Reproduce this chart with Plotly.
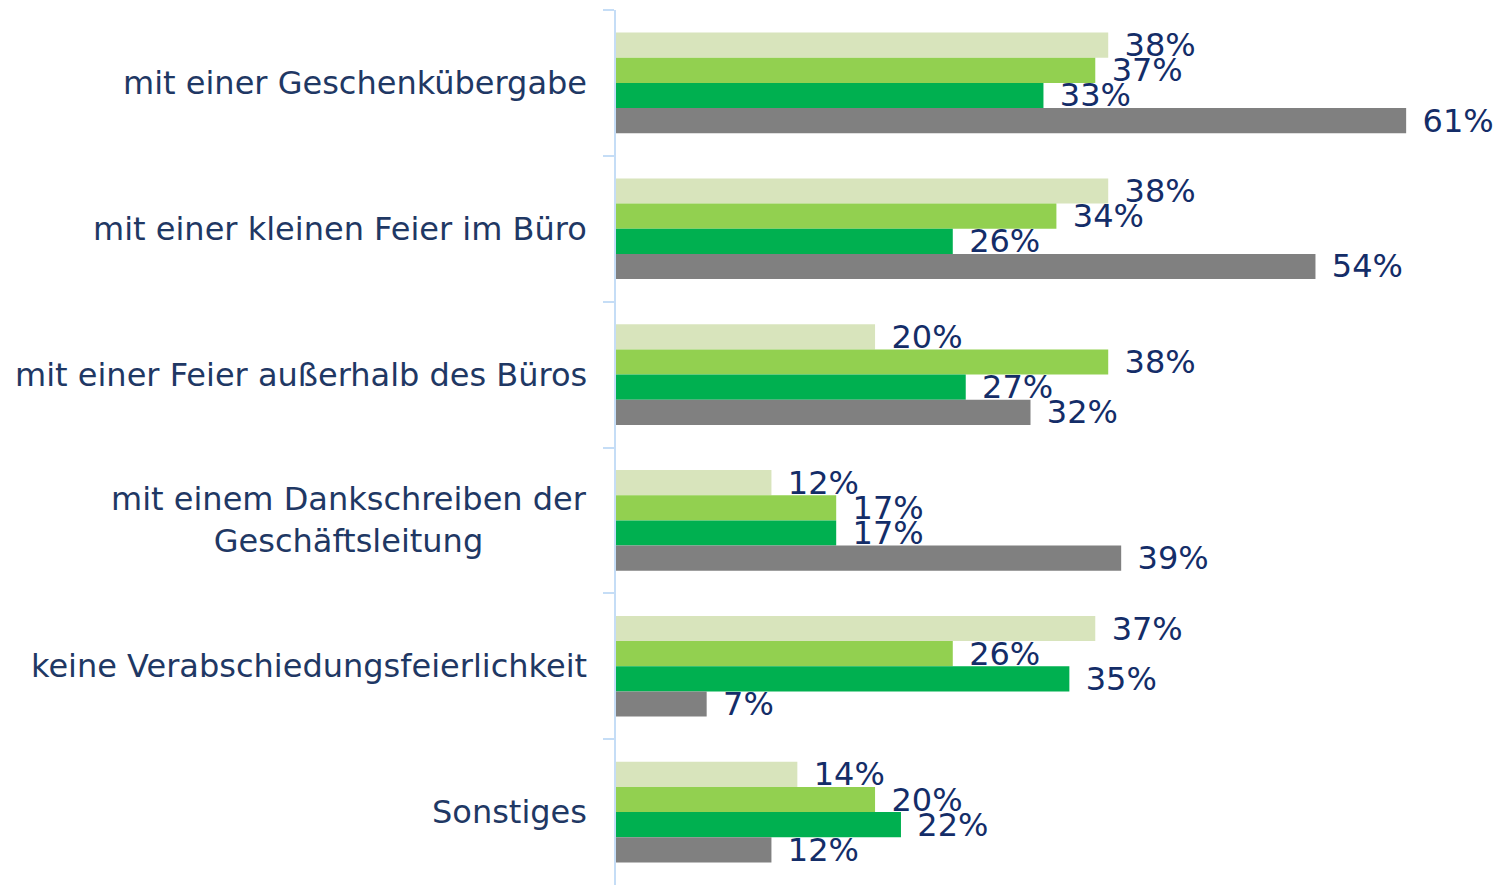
import plotly.graph_objects as go

categories = [
    "mit einer Geschenkübergabe",
    "mit einer kleinen Feier im Büro",
    "mit einer Feier außerhalb des Büros",
    "mit einem Dankschreiben der<br>Geschäftsleitung",
    "keine Verabschiedungsfeierlichkeit",
    "Sonstiges",
]
series_names = ["Serie 1", "Serie 2", "Serie 3", "Serie 4"]
series_values = [
    [38, 38, 20, 12, 37, 14],
    [37, 34, 38, 17, 26, 20],
    [33, 26, 27, 17, 35, 22],
    [61, 54, 32, 39, 7, 12],
]
colors = ["#D8E4BC", "#92D050", "#00B050", "#808080"]

LABEL_FONT = "DejaVu Sans, Verdana, sans-serif"

fig = go.Figure()
for name, vals, col in zip(series_names, series_values, colors):
    fig.add_trace(go.Bar(
        y=categories, x=vals, name=name, orientation="h",
        marker=dict(color=col, line=dict(width=0)),
        text=[f"\u00a0\u200a{v}%" for v in vals],
        textposition="outside", constraintext="none", cliponaxis=False,
        textfont=dict(family=LABEL_FONT, size=32, color="#142D68"),
        hoverinfo="x+name",
    ))

for cat in categories:
    fig.add_annotation(
        x=0, xref="paper", y=cat, yref="y", xanchor="right", yanchor="middle",
        xshift=-27, text=cat, showarrow=False, align="center",
        font=dict(family=LABEL_FONT, size=32, color="#1F3864"),
    )

fig.update_layout(
    width=1494, height=877,
    margin=dict(l=608, r=0, t=2, b=0, autoexpand=False),
    paper_bgcolor="white", plot_bgcolor="white",
    barmode="group", bargap=0.31, bargroupgap=0,
    showlegend=False,
    xaxis=dict(range=[0, 68.4], visible=False, fixedrange=True),
    yaxis=dict(
        autorange="reversed", showticklabels=False,
        showline=True, linecolor="#C5DDF6", linewidth=2,
        ticks="outside", tickson="boundaries", ticklen=11, tickcolor="#C5DDF6", tickwidth=2,
        showgrid=False, zeroline=False,
    ),
)

fig.write_html("out.html")
